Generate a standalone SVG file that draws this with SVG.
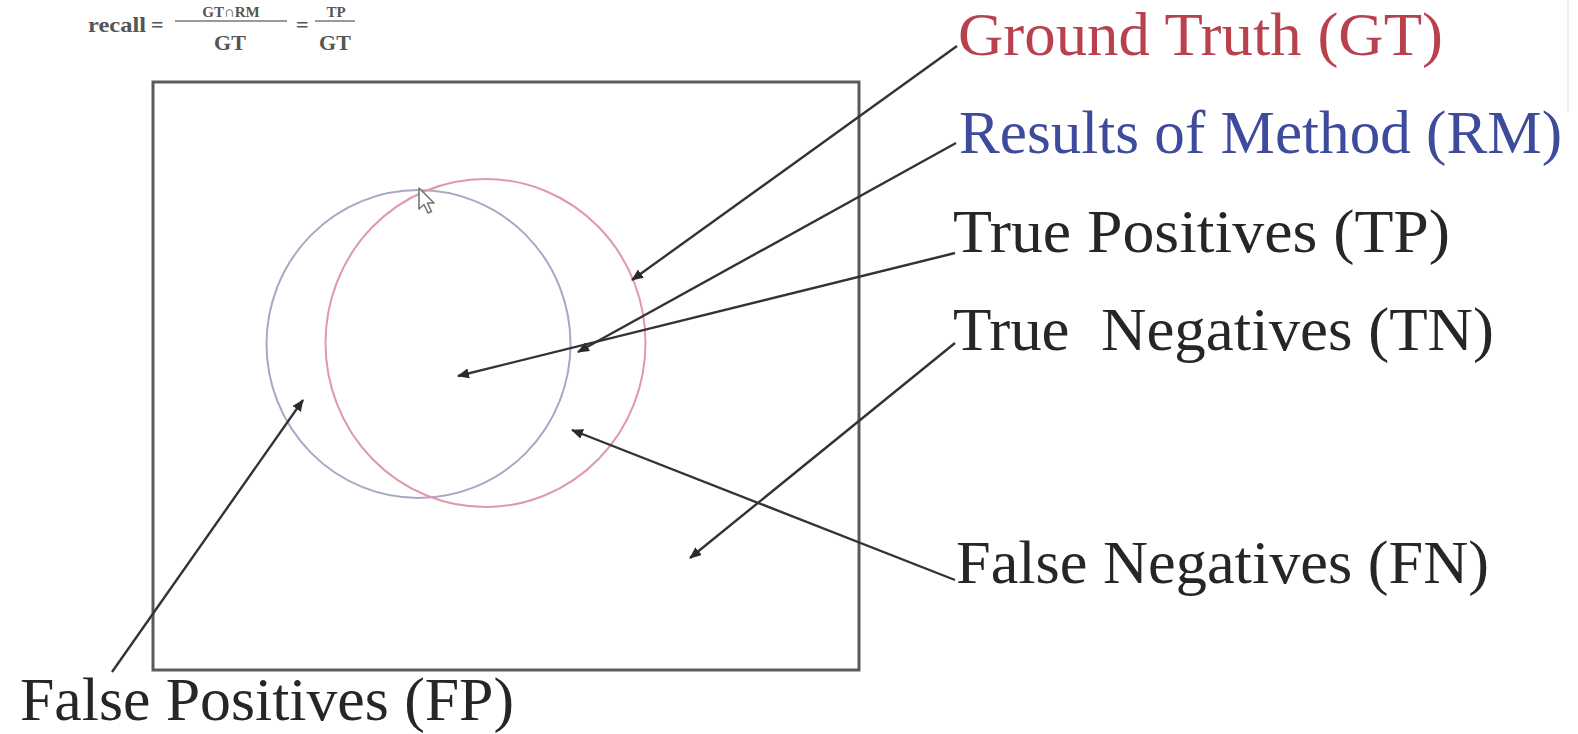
<svg xmlns="http://www.w3.org/2000/svg" width="1578" height="734" viewBox="0 0 1578 734">
  <defs>
    <style>
      .lbl { font-family: "Liberation Serif", "Times New Roman", serif; font-size: 62px; fill: #262626; white-space: pre; }
      .frm { font-family: "Liberation Serif", "DejaVu Serif", serif; font-size: 22px; font-weight: bold; fill: #555; }
      .num { font-family: "Liberation Serif", "DejaVu Serif", serif; font-size: 15px; font-weight: bold; fill: #555; }
      .conn { stroke: #333; stroke-width: 2.4; fill: none; marker-end: url(#ah); }
    </style>
    <marker id="ah" viewBox="0 0 12 10" refX="11" refY="5" markerWidth="12" markerHeight="10" markerUnits="userSpaceOnUse" orient="auto">
      <path d="M0,0 L12,5 L0,10 z" fill="#2a2a2a"/>
    </marker>
  </defs>
  <rect width="1578" height="734" fill="#ffffff"/>

  <g id="formula">
    <text class="frm" x="88" y="32" textLength="58" lengthAdjust="spacingAndGlyphs">recall</text>
    <text class="frm" x="151" y="32">=</text>
    <text class="num" x="231" y="17" text-anchor="middle">GT∩RM</text>
    <line x1="175" y1="21" x2="287" y2="21" stroke="#777" stroke-width="1.5"/>
    <text class="frm" x="230" y="50" text-anchor="middle">GT</text>
    <text class="frm" x="296" y="32">=</text>
    <text class="num" x="336" y="17" text-anchor="middle">TP</text>
    <line x1="315" y1="21" x2="355" y2="21" stroke="#777" stroke-width="1.5"/>
    <text class="frm" x="335" y="50" text-anchor="middle">GT</text>
  </g>

  <line x1="1568" y1="0" x2="1568" y2="112" stroke="#ececec" stroke-width="2"/>

  <g id="universe">
    <rect x="153" y="82" width="706" height="588" fill="none" stroke="#5a5a5a" stroke-width="3"/>
  </g>

  <g id="rm-circle">
    <ellipse cx="418.5" cy="344" rx="152" ry="154" fill="none" stroke="#a8a8c4" stroke-width="2"/>
  </g>
  <g id="gt-circle">
    <ellipse cx="485.5" cy="343" rx="160" ry="164" fill="none" stroke="#df98ac" stroke-width="2"/>
  </g>

  <g id="cursor">
    <path d="M419,188 L419,209 L424,204.5 L428,213 L431.5,211.5 L427.5,203 L434,203 Z" fill="#ffffff" stroke="#777" stroke-width="1.6" stroke-linejoin="round"/>
  </g>

  <g id="connectors">
    <line class="conn" x1="957" y1="46" x2="632" y2="280"/>
    <line class="conn" x1="956" y1="143" x2="578" y2="352"/>
    <line class="conn" x1="955" y1="253" x2="458" y2="376"/>
    <line class="conn" x1="955" y1="343" x2="690" y2="558"/>
    <line class="conn" x1="955" y1="580" x2="572" y2="430"/>
    <line class="conn" x1="112" y1="672" x2="303" y2="400"/>
  </g>

  <g id="label-gt">
    <text class="lbl" x="958" y="55" textLength="485" lengthAdjust="spacingAndGlyphs" style="fill:#b9414d">Ground Truth (GT)</text>
  </g>
  <g id="label-rm">
    <text class="lbl" x="959" y="153" textLength="603" lengthAdjust="spacingAndGlyphs" style="fill:#3e4b9c">Results of Method (RM)</text>
  </g>
  <g id="label-tp">
    <text class="lbl" x="953" y="252" textLength="497" lengthAdjust="spacingAndGlyphs">True Positives (TP)</text>
  </g>
  <g id="label-tn">
    <text class="lbl" x="953" y="350" textLength="541" lengthAdjust="spacingAndGlyphs">True  Negatives (TN)</text>
  </g>
  <g id="label-fn">
    <text class="lbl" x="956" y="583" textLength="533" lengthAdjust="spacingAndGlyphs">False Negatives (FN)</text>
  </g>
  <g id="label-fp">
    <text class="lbl" x="20" y="720" textLength="494" lengthAdjust="spacingAndGlyphs">False Positives (FP)</text>
  </g>
</svg>
